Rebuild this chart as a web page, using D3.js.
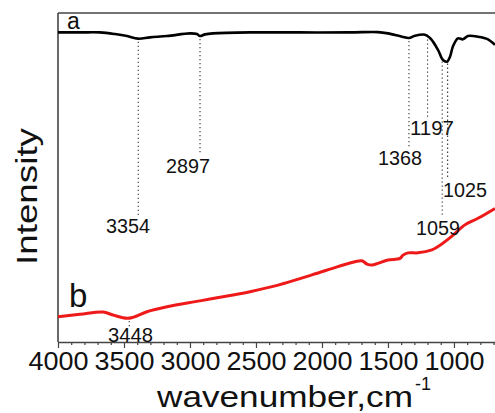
<!DOCTYPE html>
<html>
<head>
<meta charset="utf-8">
<script src="https://cdn.jsdelivr.net/npm/d3@7/dist/d3.min.js"></script>
<style>
  html, body { margin: 0; padding: 0; background: #fff; }
  svg { display: block; }
  text { font-family: "Liberation Sans", Arial, Helvetica, sans-serif; fill: #111; }
</style>
</head>
<body>
<div id="chart"></div>
<script>
// ---- data ----
// curve a (black): wavenumber (cm^-1) and intensity (arbitrary units)
const aWave = [4000, 3833, 3682, 3568, 3477, 3394, 3303, 3174, 3000, 2947, 2924, 2886, 2826, 2545, 2167, 1788, 1576, 1500, 1394, 1341, 1295, 1220, 1182, 1159, 1121, 1083, 1053, 1030, 1008, 970, 932, 894, 818, 742, 689];
const aInt  = [94.1, 94.1, 94.1, 93.6, 93.0, 92.2, 92.6, 93.0, 93.8, 93.6, 93.0, 93.5, 93.8, 94.1, 94.1, 94.1, 94.2, 93.8, 92.8, 92.4, 93.1, 93.4, 92.4, 91.3, 88.8, 85.7, 85.2, 86.7, 89.8, 92.3, 92.0, 93.0, 92.8, 92.0, 90.3];
// curve b (red)
const bWave = [4000, 3833, 3659, 3583, 3477, 3432, 3326, 3174, 2924, 2674, 2545, 2333, 2076, 1879, 1750, 1697, 1659, 1621, 1576, 1500, 1409, 1386, 1348, 1273, 1167, 1121, 1015, 917, 818, 689];
const bInt  = [7.7, 8.4, 9.1, 8.2, 7.2, 7.5, 9.2, 10.7, 12.5, 14.3, 15.3, 17.3, 20.4, 22.9, 24.4, 24.7, 23.7, 23.4, 23.9, 24.9, 25.4, 26.4, 27.1, 27.1, 28.0, 29.0, 32.2, 35.6, 37.6, 40.6];
// peak annotations: label text and where the dotted marker is drawn (cm^-1)
const peakLabels = ["3354", "2897", "1368", "1197", "1059", "1025"];
const peakMarkAt = [3392, 2924, 1341, 1200, 1089, 1048];
const bPeakLabel = "3448";
const bPeakMarkAt = 3460;
// axis ticks
const majorTicks = [4000, 3500, 3000, 2500, 2000, 1500, 1000];
const minorTicks = [3900, 3800, 3700, 3600, 3400, 3300, 3200, 3100, 2900, 2800, 2700, 2600, 2400, 2300, 2200, 2100, 1900, 1800, 1700, 1600, 1400, 1300, 1200, 1100, 900, 800, 700];
const xDomain = [4000, 689];
const yDomain = [0, 100];

// ---- layout ----
const W = 495, H = 413;
const L = 58, R = 495, T = 13, B = 342;
// label placement for peak annotations (left x, baseline y)
const peakLabelPos = [[106, 233], [166, 173], [378, 165], [410, 135], [416, 235], [443, 197]];
const bPeakLabelPos = [108, 342];

const svg = d3.select("#chart").append("svg").attr("width", W).attr("height", H);
svg.append("rect").attr("width", W).attr("height", H).attr("fill", "#fff");

const x = d3.scaleLinear().domain(xDomain).range([L, R]);
const y = d3.scaleLinear().domain(yDomain).range([B, T]);

// frame: top + left
svg.append("line").attr("x1", L).attr("x2", R).attr("y1", T).attr("y2", T)
  .attr("stroke", "#444").attr("stroke-width", 1.6);
svg.append("line").attr("x1", L).attr("x2", L).attr("y1", T).attr("y2", B)
  .attr("stroke", "#444").attr("stroke-width", 1.6);

// minor ticks
svg.append("g").attr("transform", `translate(0,${B})`)
  .call(d3.axisBottom(x).tickValues(minorTicks).tickSize(3).tickSizeOuter(0).tickFormat(""))
  .call(g => g.select(".domain").remove())
  .call(g => g.selectAll("line").attr("stroke", "#444").attr("stroke-width", 1.2));

// major ticks + labels
const ax = svg.append("g").attr("transform", `translate(0,${B})`)
  .call(d3.axisBottom(x).tickValues(majorTicks).tickSize(6).tickSizeOuter(0).tickFormat(d3.format("d")));
ax.select(".domain").attr("stroke", "#444").attr("stroke-width", 1.6);
ax.selectAll("line").attr("stroke", "#444").attr("stroke-width", 1.2);
ax.selectAll("text")
  .attr("y", 28).attr("dy", 0)
  .attr("font-size", 25)
  .attr("textLength", 60).attr("lengthAdjust", "spacingAndGlyphs")
  .style("font-family", '"Liberation Sans", Arial, sans-serif')
  .attr("fill", "#111");

// axis titles
const xt = svg.append("text").attr("x", 157).attr("y", 407)
  .attr("font-size", 30).attr("textLength", 256).attr("lengthAdjust", "spacingAndGlyphs")
  .text("wavenumber,cm");
svg.append("text").attr("x", 415).attr("y", 390).attr("font-size", 18)
  .attr("textLength", 16).attr("lengthAdjust", "spacingAndGlyphs").text("-1");
svg.append("text")
  .attr("transform", "translate(37,196.5) rotate(-90)")
  .attr("text-anchor", "middle")
  .attr("font-size", 30).attr("textLength", 137).attr("lengthAdjust", "spacingAndGlyphs")
  .text("Intensity");

// curves
const lineGen = d3.line().x(d => x(d[0])).y(d => y(d[1])).curve(d3.curveCatmullRom.alpha(0.5));
const aData = aWave.map((w, i) => [w, aInt[i]]);
const bData = bWave.map((w, i) => [w, bInt[i]]);
svg.append("path").datum(aData).attr("d", lineGen)
  .attr("fill", "none").attr("stroke", "#000").attr("stroke-width", 2.6).attr("stroke-linejoin", "round");
svg.append("path").datum(bData).attr("d", lineGen)
  .attr("fill", "none").attr("stroke", "#ee1a1a").attr("stroke-width", 3).attr("stroke-linejoin", "round");

// interpolate curve value for marker tops
function valAt(ws, vs, w) {
  for (let i = 0; i < ws.length - 1; i++) {
    if (w <= ws[i] && w >= ws[i + 1]) {
      const t = (ws[i] - w) / (ws[i] - ws[i + 1]);
      return vs[i] + t * (vs[i + 1] - vs[i]);
    }
  }
  return vs[vs.length - 1];
}

// peak markers for curve a
peakLabels.forEach((lab, i) => {
  const px = x(peakMarkAt[i]);
  const top = y(valAt(aWave, aInt, peakMarkAt[i])) + 3;
  const [lx, ly] = peakLabelPos[i];
  svg.append("line").attr("x1", px).attr("x2", px).attr("y1", top).attr("y2", ly - 18)
    .attr("stroke", "#333").attr("stroke-width", 1.1).attr("stroke-dasharray", "1.3,2.7");
  svg.append("text").attr("x", lx).attr("y", ly).attr("font-size", 20)
    .attr("textLength", 44).attr("lengthAdjust", "spacingAndGlyphs").text(lab);
});
// curve b marker
{
  const px = x(bPeakMarkAt);
  const top = y(valAt(bWave, bInt, bPeakMarkAt)) + 3;
  svg.append("line").attr("x1", px).attr("x2", px).attr("y1", top).attr("y2", bPeakLabelPos[1] - 15)
    .attr("stroke", "#333").attr("stroke-width", 1.1).attr("stroke-dasharray", "1.3,2.7");
  svg.append("text").attr("x", bPeakLabelPos[0]).attr("y", bPeakLabelPos[1]).attr("font-size", 20)
    .attr("textLength", 45).attr("lengthAdjust", "spacingAndGlyphs").text(bPeakLabel);
}

// series labels
svg.append("text").attr("x", 67).attr("y", 29).attr("font-size", 23).text("a");
svg.append("text").attr("x", 69).attr("y", 307).attr("font-size", 33).text("b");
</script>
</body>
</html>
